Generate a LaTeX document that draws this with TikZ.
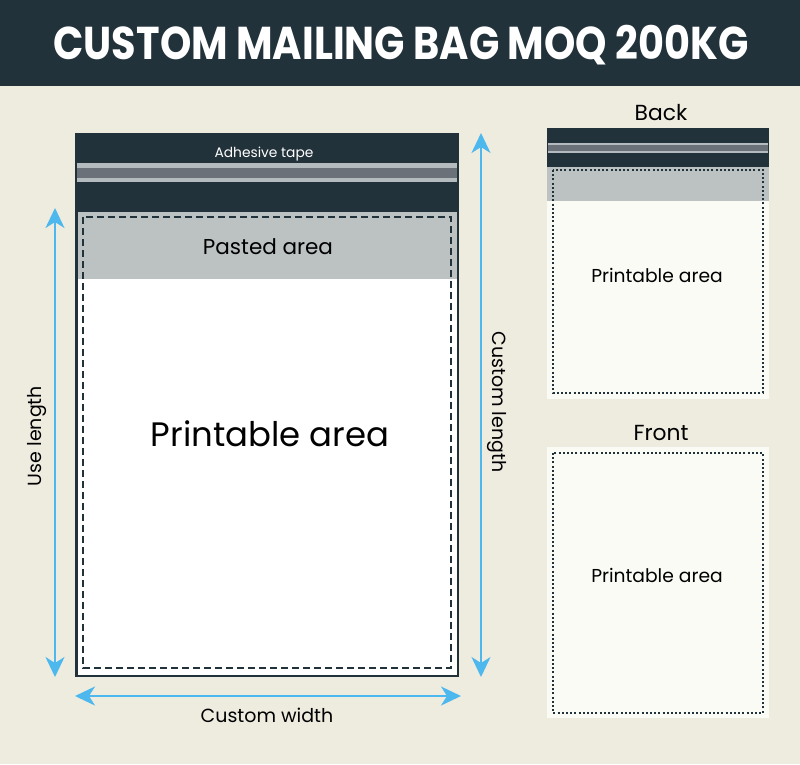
\documentclass[tikz,border=0pt]{standalone}
\usepackage{fontspec}
\setmainfont{Poppins}
\usetikzlibrary{arrows.meta}
\definecolor{bg}{HTML}{EEEBDF}
\definecolor{dark}{HTML}{22323A}
\definecolor{paste}{HTML}{BCC1C2}
\definecolor{tapel}{HTML}{B3BBBE}
\definecolor{taped}{HTML}{6A7178}
\definecolor{blue}{HTML}{4DB8EE}
\definecolor{paper}{HTML}{FAFBF5}
\tikzset{
  dim/.style={draw=blue, line width=2pt, {Stealth[length=20pt,width=19pt,inset=6pt]}-{Stealth[length=20pt,width=19pt,inset=6pt]}},
  lbl/.style={font=\fontsize{19}{21}\selectfont, text=black, inner sep=0pt},
  dotbox/.style={draw=dark, line width=2pt, dash pattern=on 2pt off 2.2pt},
}
\begin{document}
\begin{tikzpicture}[x=1pt,y=-1pt]
\fill[bg] (0,0) rectangle (800,764);
\useasboundingbox (0,0) rectangle (800,764);
% header
\fill[dark] (0,0) rectangle (800,86);
\node (title) at (401,45) {\scalebox{0.866}[1]{\fontsize{46}{50}\selectfont\bfseries\color{white}CUSTOM MAILING BAG MOQ 200KG}};
% main bag
\fill[dark] (75,133) rectangle (459,677);
\fill[white] (77.5,279) rectangle (456.5,674.5);
\fill[paste] (77.5,212) rectangle (456.5,279);
\fill[tapel] (77,163) rectangle (457,182);
\fill[taped] (77,167.5) rectangle (457,178);
\node[font=\fontsize{13.8}{15}\selectfont, text=white, inner sep=0pt] (tape) at (264,154) {Adhesive tape};
\draw[dark, line width=1.6pt, dash pattern=on 7pt off 4pt] (83,217) rectangle (451,668);
\node[lbl, font=\fontsize{21.5}{24}\selectfont] (pasted) at (268,247) {Pasted area};
\node[lbl, font=\fontsize{33.9}{38}\selectfont] (print) at (270,434) {Printable area};
% dimension arrows
\coordinate (l1) at (55,208); \coordinate (l2) at (55,677);
\coordinate (r1) at (481,133); \coordinate (r2) at (481,677);
\coordinate (b1) at (75,696); \coordinate (b2) at (461,696);
\draw[dim] (l1) -- (l2);
\draw[dim] (r1) -- (r2);
\draw[dim] (b1) -- (b2);
\node[lbl, rotate=90] (uselen) at (37,436) {Use length};
\node[lbl, rotate=-90] (custlen) at (497,402) {Custom length};
\node[lbl] (custw) at (267,715) {Custom width};
% back
\node[lbl, font=\fontsize{21.8}{24}\selectfont] (backl) at (661,113) {Back};
\fill[paper] (547,128) rectangle (769,399);
\fill[dark] (547,128) rectangle (769,167);
\fill[paste] (547,167) rectangle (769,201);
\fill[tapel] (548,143) rectangle (768,153);
\fill[taped] (548,145) rectangle (768,150.5);
\draw[dotbox] (553,170) rectangle (763,393);
\node[lbl, font=\fontsize{18.7}{21}\selectfont] (backp) at (657,275) {Printable area};
% front
\node[lbl, font=\fontsize{21.8}{24}\selectfont] (frontl) at (661,433) {Front};
\fill[paper] (547,447) rectangle (769,718);
\draw[dotbox] (553,453) rectangle (763,713);
\node[lbl, font=\fontsize{18.7}{21}\selectfont] (frontp) at (657,575) {Printable area};
\end{tikzpicture}
\end{document}
